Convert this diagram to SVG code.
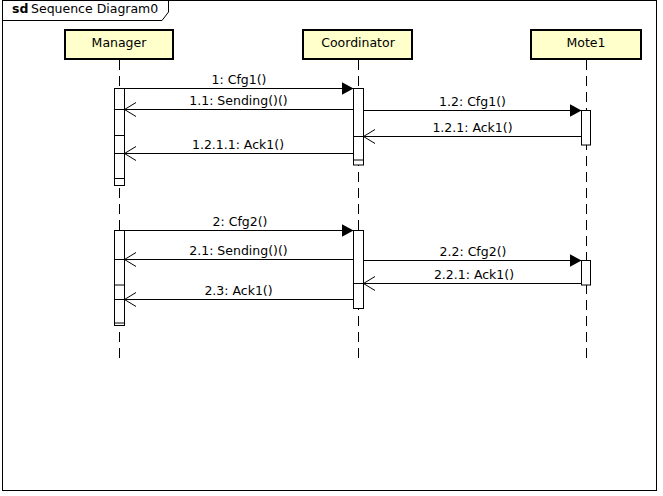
<svg xmlns="http://www.w3.org/2000/svg" width="663" height="496" viewBox="0 0 663 496">
<style>
text{font-family:"DejaVu Sans","Liberation Sans",sans-serif;font-size:12.5px;fill:#000}
.lbl{text-anchor:middle}
.head rect{fill:#FFFFCC;stroke:#000;stroke-width:2}
.life{stroke:#000;stroke-width:1;stroke-dasharray:10,6;fill:none}
.bar{fill:#fff;stroke:#000;stroke-width:1}
.msg{stroke:#000;stroke-width:1;fill:none}
.frame{fill:#fff;stroke:#000;stroke-width:1}
</style>
<defs>
<marker id="filled" markerUnits="userSpaceOnUse" markerWidth="14" markerHeight="14" refX="12" refY="6.5" orient="auto" viewBox="0 0 14 14">
<path d="M0,0 L12,6.5 L0,13 Z" fill="#000"/>
</marker>
<marker id="open" markerUnits="userSpaceOnUse" markerWidth="14" markerHeight="16" refX="12" refY="7.5" orient="auto" viewBox="0 0 14 16">
<path d="M0.5,0.5 L12,7.5 L0.5,14.5" fill="none" stroke="#000" stroke-width="1"/>
</marker>
</defs>
<g id="frame">
<rect class="frame" x="2.5" y="0.5" width="654" height="490"/>
<path d="M2.5,20.5 L162,20.5 L168.5,12 L168.5,0.5" fill="none" stroke="#000" stroke-width="1"/>
<text x="12" y="13"><tspan font-weight="bold">sd</tspan><tspan x="31">Sequence Diagram0</tspan></text>
</g>
<g id="lifelines">
<line class="life" x1="119.5" y1="60" x2="119.5" y2="360"/>
<line class="life" x1="358.5" y1="60" x2="358.5" y2="360"/>
<line class="life" x1="586.5" y1="60" x2="586.5" y2="360"/>
</g>
<g id="Manager" class="head">
<rect x="65" y="30" width="108" height="29"/>
<text class="lbl" x="119" y="47">Manager</text>
</g>
<g id="Coordinator" class="head">
<rect x="303" y="30" width="109" height="29"/>
<text class="lbl" x="358" y="47">Coordinator</text>
</g>
<g id="Mote1" class="head">
<rect x="531" y="30" width="110" height="29"/>
<text class="lbl" x="586" y="47">Mote1</text>
</g>
<g id="activations">
<rect class="bar" x="114.5" y="88.5" width="10" height="97"/>
<rect class="bar" x="114.5" y="109.5" width="10" height="26"/>
<rect class="bar" x="114.5" y="153.5" width="10" height="25"/>
<rect class="bar" x="353.5" y="88.5" width="10" height="76.5"/>
<rect class="bar" x="353.5" y="136.5" width="10" height="23.5"/>
<rect class="bar" x="581.5" y="110.5" width="9" height="34.5"/>
<rect class="bar" x="114.5" y="230.5" width="10" height="95"/>
<rect class="bar" x="114.5" y="259.5" width="10" height="25.5"/>
<rect class="bar" x="114.5" y="299.5" width="10" height="23.5"/>
<rect class="bar" x="353.5" y="230.5" width="10" height="78"/>
<rect class="bar" x="353.5" y="283.5" width="10" height="25"/>
<rect class="bar" x="581.5" y="260.5" width="9" height="24.5"/>
</g>
<g id="connectors">
<line class="msg" x1="124.5" y1="88.5" x2="353.5" y2="88.5" marker-end="url(#filled)"/>
<line class="msg" x1="353.5" y1="109.5" x2="124.5" y2="109.5" marker-end="url(#open)"/>
<line class="msg" x1="363.5" y1="110.5" x2="581.5" y2="110.5" marker-end="url(#filled)"/>
<line class="msg" x1="581.5" y1="136.5" x2="363.5" y2="136.5" marker-end="url(#open)"/>
<line class="msg" x1="353.5" y1="153.5" x2="124.5" y2="153.5" marker-end="url(#open)"/>
<line class="msg" x1="124.5" y1="230.5" x2="353.5" y2="230.5" marker-end="url(#filled)"/>
<line class="msg" x1="353.5" y1="259.5" x2="124.5" y2="259.5" marker-end="url(#open)"/>
<line class="msg" x1="363.5" y1="260.5" x2="581.5" y2="260.5" marker-end="url(#filled)"/>
<line class="msg" x1="581.5" y1="283.5" x2="363.5" y2="283.5" marker-end="url(#open)"/>
<line class="msg" x1="353.5" y1="299.5" x2="124.5" y2="299.5" marker-end="url(#open)"/>
</g>
<g id="labels">
<text class="lbl" x="239" y="83.5">1: Cfg1()</text>
<text class="lbl" x="238.5" y="104.5">1.1: Sending()()</text>
<text class="lbl" x="472.5" y="105.5">1.2: Cfg1()</text>
<text class="lbl" x="472.5" y="131.5">1.2.1: Ack1()</text>
<text class="lbl" x="238" y="148.5">1.2.1.1: Ack1()</text>
<text class="lbl" x="240" y="225.5">2: Cfg2()</text>
<text class="lbl" x="238.5" y="254.5">2.1: Sending()()</text>
<text class="lbl" x="473" y="255.5">2.2: Cfg2()</text>
<text class="lbl" x="474" y="278.5">2.2.1: Ack1()</text>
<text class="lbl" x="238.5" y="294.5">2.3: Ack1()</text>
</g>
</svg>
